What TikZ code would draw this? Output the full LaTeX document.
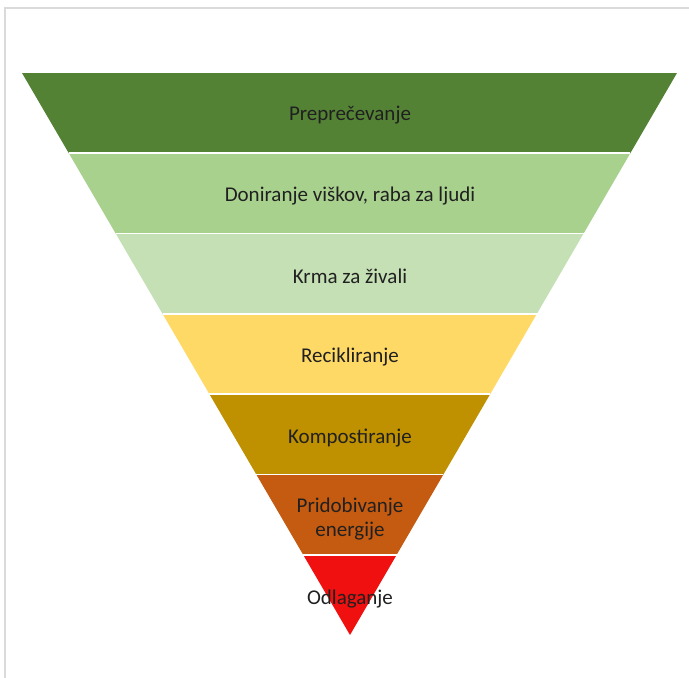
\documentclass[tikz,border=0pt]{standalone}
\usepackage{fontspec}
\setmainfont{Carlito}
\usetikzlibrary{calc}
\definecolor{c1}{HTML}{548235}
\definecolor{c2}{HTML}{A9D18E}
\definecolor{c3}{HTML}{C5E0B4}
\definecolor{c4}{HTML}{FFD966}
\definecolor{c5}{HTML}{BF9000}
\definecolor{c6}{HTML}{C55A11}
\definecolor{c7}{HTML}{F01010}
\definecolor{txt}{HTML}{202020}
\definecolor{frame}{HTML}{DADADA}
\begin{document}
\begin{tikzpicture}[x=1pt,y=-1pt,
  lab/.style={text=txt,font=\fontsize{21}{23.5}\selectfont,align=center,inner sep=0pt}]
\useasboundingbox (0,0) rectangle (689,678);
\draw[frame,line width=2pt] (5,678) -- (5,8) -- (689,8);
\coordinate (TL) at (22,73);
\coordinate (TR) at (677,73);
\coordinate (A) at (350,635);
\foreach \i/\c in {0/c1,1/c2,2/c3,3/c4,4/c5,5/c6}{
  \pgfmathsetmacro{\a}{\i/7}
  \pgfmathsetmacro{\b}{(\i+1)/7}
  \fill[\c] ($(TL)!\a!(A)$) -- ($(TR)!\a!(A)$) -- ($(TR)!\b!(A)$) -- ($(TL)!\b!(A)$) -- cycle;
}
\fill[c7] ($(TL)!6/7!(A)$) -- ($(TR)!6/7!(A)$) -- (A) -- cycle;
\foreach \i in {1,...,6}{
  \draw[white,line width=1.6pt] ($(TL)!\i/7!(A)$) -- ($(TR)!\i/7!(A)$);
}
\node[lab] (n1) at (350,115) {Preprečevanje};
\node[lab] (n2) at (350,196) {Doniranje viškov, raba za ljudi};
\node[lab] (n3) at (350,276) {Krma za živali};
\node[lab] (n4) at (350,357) {Recikliranje};
\node[lab] (n5) at (350,438) {Kompostiranje};
\node[lab] (n6) at (350,519) {Pridobivanje\\energije};
\node[lab] (n7) at (350,599) {Odlaganje};
\end{tikzpicture}
\end{document}
